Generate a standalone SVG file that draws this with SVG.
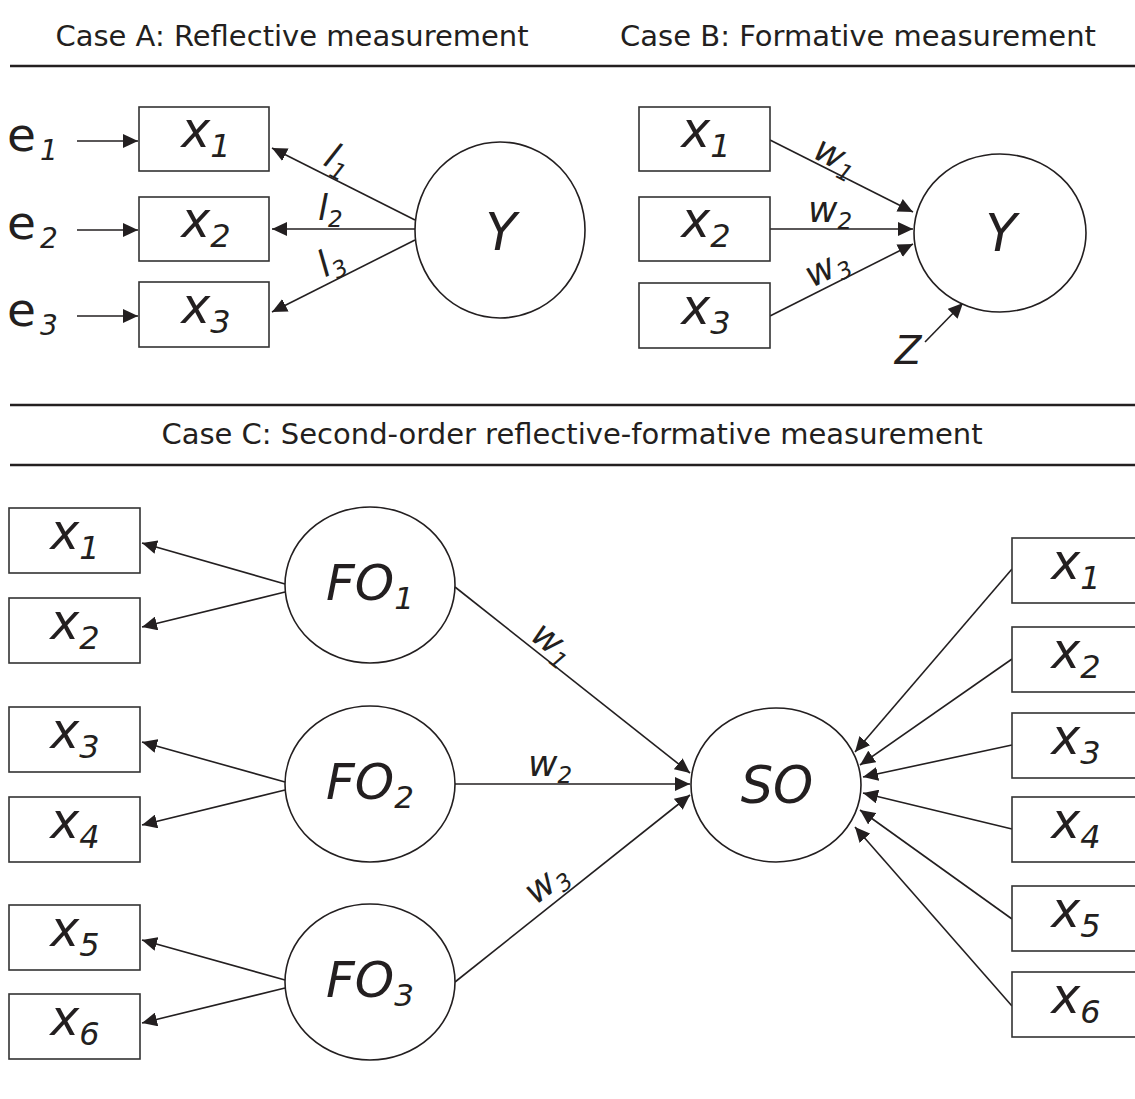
<svg xmlns="http://www.w3.org/2000/svg" width="1135" height="1099" viewBox="0 0 1135 1099">
  <style>
    text { font-family: "DejaVu Sans", "Liberation Sans", sans-serif; fill: #231f20; }
    .title { font-size: 29px; text-anchor: middle; }
    .rule { stroke: #231f20; stroke-width: 2.6; }
    .box { fill: #fff; stroke: #333; stroke-width: 1.6; }
    .lat { fill: #fff; stroke: #231f20; stroke-width: 1.6; }
    .var { font-size: 49px; font-style: italic; text-anchor: middle; }
    .var .sub { font-size: 32px; }
    .big { font-size: 51px; font-style: italic; text-anchor: middle; }
    .big .sub { font-size: 31px; }
    .err { font-size: 47px; }
    .err .sub { font-size: 28px; font-style: italic; }
    .lab { font-size: 36px; font-style: italic; }
    .lab .sub { font-size: 23px; }
    .mid { text-anchor: middle; }
    .edge { stroke: #231f20; stroke-width: 1.6; fill: none; marker-end: url(#head); }
  </style>
  <defs>
    <marker id="head" markerUnits="userSpaceOnUse" viewBox="0 0 15 14" markerWidth="15" markerHeight="14" refX="15" refY="7" orient="auto">
      <path d="M0,0 L15,7 L0,14 z" fill="#231f20"/>
    </marker>
  </defs>

  <!-- section headings and rules -->
  <g id="headings">
    <text class="title" x="292" y="46">Case A: Reflective measurement</text>
    <text class="title" x="858" y="46">Case B: Formative measurement</text>
    <line class="rule" x1="10" y1="66" x2="1135" y2="66"/>
    <line class="rule" x1="10" y1="405" x2="1135" y2="405"/>
    <text class="title" x="572" y="444">Case C: Second-order reflective-formative measurement</text>
    <line class="rule" x1="10" y1="465" x2="1135" y2="465"/>
  </g>

  <!-- connectors -->
  <g id="connectors">
    <!-- Case A: errors to indicators -->
    <line class="edge" x1="77" y1="141" x2="138" y2="141"/>
    <line class="edge" x1="77" y1="230" x2="138" y2="230"/>
    <line class="edge" x1="77" y1="316" x2="138" y2="316"/>
    <!-- Case A: construct to indicators -->
    <line class="edge" x1="415" y1="220" x2="272" y2="148"/>
    <line class="edge" x1="415" y1="229" x2="272" y2="229"/>
    <line class="edge" x1="415" y1="240" x2="272" y2="312"/>
    <!-- Case B: indicators to construct -->
    <line class="edge" x1="770" y1="140" x2="913" y2="212"/>
    <line class="edge" x1="770" y1="229" x2="913" y2="229"/>
    <line class="edge" x1="770" y1="316" x2="913" y2="244"/>
    <line class="edge" x1="925" y1="342" x2="963" y2="303"/>
    <!-- Case C: first-order constructs to indicators -->
    <line class="edge" x1="285" y1="584" x2="142" y2="543"/>
    <line class="edge" x1="285" y1="592" x2="142" y2="627"/>
    <line class="edge" x1="285" y1="782" x2="142" y2="742"/>
    <line class="edge" x1="285" y1="790" x2="142" y2="825"/>
    <line class="edge" x1="285" y1="980" x2="142" y2="940"/>
    <line class="edge" x1="285" y1="988" x2="142" y2="1023"/>
    <!-- Case C: first-order to second-order -->
    <line class="edge" x1="455" y1="587" x2="690" y2="773"/>
    <line class="edge" x1="455" y1="784" x2="690" y2="784"/>
    <line class="edge" x1="455" y1="982" x2="690" y2="795"/>
    <!-- Case C: right indicators to second-order -->
    <line class="edge" x1="1012" y1="569" x2="855" y2="752"/>
    <line class="edge" x1="1012" y1="659" x2="860" y2="765"/>
    <line class="edge" x1="1012" y1="745" x2="863" y2="777"/>
    <line class="edge" x1="1012" y1="829" x2="863" y2="793"/>
    <line class="edge" x1="1012" y1="919" x2="860" y2="810"/>
    <line class="edge" x1="1012" y1="1006" x2="855" y2="827"/>
  </g>

  <!-- connector labels -->
  <g id="edge-labels">
    <text class="lab mid" transform="translate(333,170) rotate(27)">l<tspan class="sub" dy="7">1</tspan></text>
    <text class="lab" x="318" y="220">l<tspan class="sub" dy="7">2</tspan></text>
    <text class="lab mid" transform="translate(336,272) rotate(-27)">l<tspan class="sub" dy="7">3</tspan></text>
    <text class="lab mid" transform="translate(831,167) rotate(27)">w<tspan class="sub" dy="7">1</tspan></text>
    <text class="lab" x="808" y="222">w<tspan class="sub" dy="7">2</tspan></text>
    <text class="lab mid" transform="translate(832,278) rotate(-27)">w<tspan class="sub" dy="7">3</tspan></text>
    <text class="lab mid" transform="translate(546,652) rotate(38)">w<tspan class="sub" dy="7">1</tspan></text>
    <text class="lab" x="528" y="776">w<tspan class="sub" dy="7">2</tspan></text>
    <text class="lab mid" transform="translate(553,892) rotate(-38)">w<tspan class="sub" dy="7">3</tspan></text>
  </g>

  <!-- Case A: reflective -->
  <g id="a-e1"><text class="err" x="7" y="151">e<tspan class="sub" dx="4" dy="9">1</tspan></text></g>
  <g id="a-e2"><text class="err" x="7" y="239">e<tspan class="sub" dx="4" dy="9">2</tspan></text></g>
  <g id="a-e3"><text class="err" x="7" y="326">e<tspan class="sub" dx="4" dy="9">3</tspan></text></g>
  <g id="a-x1"><rect class="box" x="139" y="107" width="130" height="64"/><text class="var" x="206" y="147">x<tspan class="sub" dy="10">1</tspan></text></g>
  <g id="a-x2"><rect class="box" x="139" y="197" width="130" height="64"/><text class="var" x="206" y="237">x<tspan class="sub" dy="10">2</tspan></text></g>
  <g id="a-x3"><rect class="box" x="139" y="282" width="130" height="65"/><text class="var" x="206" y="323">x<tspan class="sub" dy="10">3</tspan></text></g>
  <g id="a-Y"><ellipse class="lat" cx="500" cy="230" rx="85" ry="88"/><text class="big" x="501" y="250">Y</text></g>

  <!-- Case B: formative -->
  <g id="b-x1"><rect class="box" x="639" y="107" width="131" height="64"/><text class="var" x="706" y="147">x<tspan class="sub" dy="10">1</tspan></text></g>
  <g id="b-x2"><rect class="box" x="639" y="197" width="131" height="64"/><text class="var" x="706" y="237">x<tspan class="sub" dy="10">2</tspan></text></g>
  <g id="b-x3"><rect class="box" x="639" y="283" width="131" height="65"/><text class="var" x="706" y="324">x<tspan class="sub" dy="10">3</tspan></text></g>
  <g id="b-Y"><ellipse class="lat" cx="1000" cy="233" rx="86" ry="79"/><text class="big" x="1001" y="251">Y</text></g>
  <g id="b-Z"><text class="big" x="908" y="364" style="font-size:39px">Z</text></g>

  <!-- Case C: first-order constructs and their indicators -->
  <g id="c-x1"><rect class="box" x="9" y="508" width="131" height="65"/><text class="var" x="75" y="549">x<tspan class="sub" dy="10">1</tspan></text></g>
  <g id="c-x2"><rect class="box" x="9" y="598" width="131" height="65"/><text class="var" x="75" y="639">x<tspan class="sub" dy="10">2</tspan></text></g>
  <g id="c-x3"><rect class="box" x="9" y="707" width="131" height="65"/><text class="var" x="75" y="748">x<tspan class="sub" dy="10">3</tspan></text></g>
  <g id="c-x4"><rect class="box" x="9" y="797" width="131" height="65"/><text class="var" x="75" y="838">x<tspan class="sub" dy="10">4</tspan></text></g>
  <g id="c-x5"><rect class="box" x="9" y="905" width="131" height="65"/><text class="var" x="75" y="946">x<tspan class="sub" dy="10">5</tspan></text></g>
  <g id="c-x6"><rect class="box" x="9" y="994" width="131" height="65"/><text class="var" x="75" y="1035">x<tspan class="sub" dy="10">6</tspan></text></g>
  <g id="c-FO1"><ellipse class="lat" cx="370" cy="585" rx="85" ry="78"/><text class="big" x="370" y="600" style="font-size:50px">FO<tspan class="sub" dy="9">1</tspan></text></g>
  <g id="c-FO2"><ellipse class="lat" cx="370" cy="784" rx="85" ry="78"/><text class="big" x="370" y="799" style="font-size:50px">FO<tspan class="sub" dy="9">2</tspan></text></g>
  <g id="c-FO3"><ellipse class="lat" cx="370" cy="982" rx="85" ry="78"/><text class="big" x="370" y="997" style="font-size:50px">FO<tspan class="sub" dy="9">3</tspan></text></g>

  <!-- Case C: second-order construct and its formative indicators -->
  <g id="c-SO"><ellipse class="lat" cx="776" cy="785" rx="85" ry="77"/><text class="big" x="777" y="803">SO</text></g>
  <g id="c-r1"><rect class="box" x="1012" y="538" width="130" height="65"/><text class="var" x="1076" y="579">x<tspan class="sub" dy="10">1</tspan></text></g>
  <g id="c-r2"><rect class="box" x="1012" y="627" width="130" height="65"/><text class="var" x="1076" y="668">x<tspan class="sub" dy="10">2</tspan></text></g>
  <g id="c-r3"><rect class="box" x="1012" y="713" width="130" height="65"/><text class="var" x="1076" y="754">x<tspan class="sub" dy="10">3</tspan></text></g>
  <g id="c-r4"><rect class="box" x="1012" y="797" width="130" height="65"/><text class="var" x="1076" y="838">x<tspan class="sub" dy="10">4</tspan></text></g>
  <g id="c-r5"><rect class="box" x="1012" y="886" width="130" height="65"/><text class="var" x="1076" y="927">x<tspan class="sub" dy="10">5</tspan></text></g>
  <g id="c-r6"><rect class="box" x="1012" y="972" width="130" height="65"/><text class="var" x="1076" y="1013">x<tspan class="sub" dy="10">6</tspan></text></g>
</svg>
